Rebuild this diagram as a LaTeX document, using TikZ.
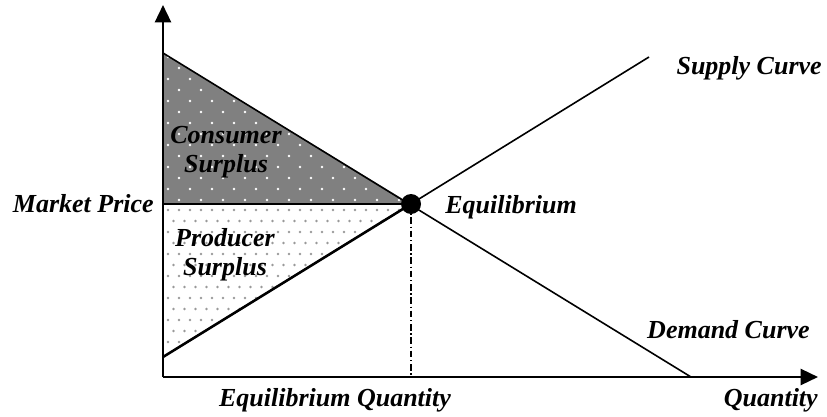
\documentclass[tikz,border=0pt]{standalone}
\usepackage{fontspec}
\setmainfont{Liberation Serif}
\usetikzlibrary{arrows.meta}
\begin{document}
\begin{tikzpicture}[x=0.75pt,y=-0.75pt,>={Triangle[length=13pt,width=12pt]},
 lbl/.style={font=\fontsize{19.5}{22}\selectfont\bfseries\itshape, inner sep=0pt},
 curve/.style={line width=1.2pt}]
 \useasboundingbox (0,0) rectangle (827,417);
 \coordinate (O) at (163,377);
 \coordinate (ytop) at (163,5);
 \coordinate (xend) at (818,377);
 \coordinate (dtop) at (163,53);
 \coordinate (dbot) at (691,377);
 \coordinate (sbot) at (163,357);
 \coordinate (stop) at (649,57);
 \coordinate (E) at (411,204);
 \coordinate (pm) at (163,204);
 \coordinate (qe) at (411,377);
 % consumer surplus
 \fill[black!50] (dtop) -- (E) -- (pm) -- cycle;
 \begin{scope}
  \clip (dtop) -- (E) -- (pm) -- cycle;
  \foreach \j in {0,...,14}
   \foreach \i in {0,...,11}
    \fill[white] ({168+22*\i+11*mod(\j,2)},{57+11*\j}) circle (1pt);
 \end{scope}
 % producer surplus
 \begin{scope}
  \clip (pm) -- (E) -- (sbot) -- cycle;
  \foreach \j in {0,...,14}
   \foreach \i in {0,...,22}
    \fill[black!40] ({168+11*\i+5.5*mod(\j,2)},{210+11*\j}) circle (1pt);
 \end{scope}
 \node[lbl, align=center] (cs) at (226,152) {Consumer\\Surplus};
 \node[lbl, align=center] (ps) at (225,255) {Producer\\Surplus};
 % curves
 \draw[curve] (dtop) -- (dbot);
 \draw[curve] (sbot) -- (stop);
 \draw[line width=1.9pt] (sbot) -- (E);
 \draw[line width=1.6pt] (pm) -- (E);
 \draw[line width=0.8pt, dash pattern=on 5pt off 2pt on 1pt off 2pt] (E) -- (qe);
 \fill (E) circle (7.5pt);
 % axes
 \draw[line width=1.8pt, ->] (O) -- (ytop);
 \draw[line width=1.8pt, ->] (O) -- (xend);
 % labels
 \node[lbl, anchor=east] (mp) at (154,204) {Market Price};
 \node[lbl, anchor=west] (eq) at (445,207) {Equilibrium};
 \node[lbl, anchor=east] (sc) at (822,68) {Supply Curve};
 \node[lbl, anchor=east] (dc) at (810,330) {Demand Curve};
 \node[lbl] (eqq) at (335,400) {Equilibrium Quantity};
 \node[lbl, anchor=east] (qty) at (818,400) {Quantity};
\end{tikzpicture}
\end{document}
